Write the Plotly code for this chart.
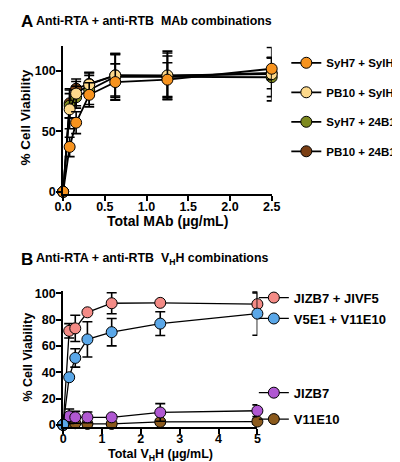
import plotly.graph_objects as go

# ---------------- data ----------------
xA = [0, 0.078, 0.156, 0.3125, 0.625, 1.25, 2.5]
A_SyH7_SylH3 = [0, 37, 57, 80, 90.5, 92.5, 101.5]
A_SyH7_SylH3_err = [0, 8, 9, 10, 15, 14, 9]
A_PB10_SylH3 = [0, 68, 81, 88.5, 96, 96, 97]
A_PB10_SylH3_err = [0, 16, 10, 10, 17, 20, 22]
A_SyH7_24B11 = [0, 71, 78, 84, 95, 95, 94.5]
A_SyH7_24B11_err = [0, 10, 9, 12, 19, 17, 16]
A_PB10_24B11 = [0, 73, 85, 89, 96, 95.5, 98]
A_PB10_24B11_err = [0, 12, 8, 9, 18, 19, 13]

xB = [0, 0.156, 0.3125, 0.625, 1.25, 2.5, 5]
B_JIZB7_JIVF5 = [0, 71.5, 73.4, 85.6, 92.5, 92.8, 91.8]
B_JIZB7_JIVF5_err = [0, 5.5, 10, 0, 8, 0, 8.5]
B_V5E1_V11E10 = [0, 36.2, 50.9, 65, 70.5, 77, 84.6]
B_V5E1_V11E10_err = [0, 1, 7, 13.4, 10.4, 9, 16.5]
B_JIZB7 = [0, 6.5, 5.7, 5.7, 5.7, 9.4, 10.7]
B_JIZB7_err = [0, 5.5, 4.5, 4, 0, 6.7, 4.5]
B_V11E10 = [0, 1.5, 1.2, 0.7, 0.7, 2.2, 2.5]
B_V11E10_err = [0, 1.5, 1, 0.5, 0.5, 1.5, 2]

xA_ticks = [0, 0.5, 1.0, 1.5, 2.0, 2.5]
yA_ticks = [0, 50, 100]
xB_ticks = [0, 1, 2, 3, 4, 5]
yB_ticks = [0, 20, 40, 60, 80, 100]

W, H = 400, 462
FONT = "Liberation Sans, Arial, sans-serif"

fig = go.Figure()

def add(x, y, err, name, color, xa, ya, legend, rank, lw):
    fig.add_trace(go.Scatter(
        x=x, y=y, name=name, mode="lines+markers",
        xaxis=xa, yaxis=ya, legend=legend, legendrank=rank,
        legendgroup=name, cliponaxis=False,
        line=dict(color="black", width=lw),
        marker=dict(size=11, color=color, line=dict(color="black", width=1)),
        error_y=dict(type="data", array=err, symmetric=True,
                     color="black", thickness=1.6, width=5),
    ))

# Panel A (draw order: brown, olive, yellow, orange on top)
add(xA, A_PB10_24B11, A_PB10_24B11_err, "PB10 + 24B11", "#7B3F14", "x", "y", "legend", 4, 1.8)
add(xA, A_SyH7_24B11, A_SyH7_24B11_err, "SyH7 + 24B11", "#7E8A1F", "x", "y", "legend", 3, 1.8)
add(xA, A_PB10_SylH3, A_PB10_SylH3_err, "PB10 + SylH3", "#FDD98B", "x", "y", "legend", 2, 1.8)
add(xA, A_SyH7_SylH3, A_SyH7_SylH3_err, "SyH7 + SylH3", "#F7931E", "x", "y", "legend", 1, 1.8)

# Panel B
add(xB, B_V11E10, B_V11E10_err, "V11E10", "#8B5A1D", "x2", "y2", "legend3", 2, 1.3)
add(xB, B_JIZB7, B_JIZB7_err, "JIZB7", "#B058D2", "x2", "y2", "legend3", 1, 1.3)
add(xB, B_JIZB7_JIVF5, B_JIZB7_JIVF5_err, "JIZB7 + JIVF5", "#F48B86", "x2", "y2", "legend2", 1, 1.3)
add(xB, B_V5E1_V11E10, B_V5E1_V11E10_err, "V5E1 + V11E10", "#5AA7E8", "x2", "y2", "legend2", 2, 1.3)

def px_x(p):
    return p / W

def px_y(p):
    return 1 - p / H

tickfont = dict(family=FONT, size=12.5, color="black", weight="bold")
axis_common = dict(showline=True, linecolor="black", linewidth=1.8, ticks="outside",
                   ticklen=5, tickwidth=1.8, tickcolor="black", showgrid=False,
                   zeroline=False, tickfont=tickfont)

legfontA = dict(family=FONT, size=11.5, color="black", weight="bold")
legfontB = dict(family=FONT, size=13, color="black", weight="bold")

fig.update_layout(
    width=W, height=H, margin=dict(l=0, r=0, t=0, b=0),
    paper_bgcolor="white", plot_bgcolor="white",
    font=dict(family=FONT, color="black"),
    xaxis=dict(domain=[px_x(48.3), px_x(266.7)], range=[0, 2.5], anchor="y",
               tickvals=xA_ticks, tickformat=".1f", ticklabelstandoff=-5, **axis_common),
    yaxis=dict(domain=[px_y(185.8), px_y(35)], range=[-2, 120], anchor="x",
               tickvals=yA_ticks, ticklabelstandoff=-2, **axis_common),
    xaxis2=dict(domain=[px_x(48.3), px_x(251.7)], range=[0, 5], anchor="y2",
                tickvals=xB_ticks, ticklabelstandoff=-6, **axis_common),
    yaxis2=dict(domain=[px_y(423.7), px_y(284.3)], range=[-2, 102], anchor="x2",
                tickvals=yB_ticks, ticklabelstandoff=-2, **axis_common),
    legend=dict(x=px_x(282), y=px_y(37), xanchor="left", yanchor="top",
                tracegroupgap=10.5, bgcolor="rgba(0,0,0,0)", font=legfontA),
    legend2=dict(x=px_x(248), y=px_y(276), xanchor="left", yanchor="top",
                 tracegroupgap=1, bgcolor="rgba(0,0,0,0)", font=legfontB),
    legend3=dict(x=px_x(248), y=px_y(373), xanchor="left", yanchor="top",
                 tracegroupgap=6.5, bgcolor="rgba(0,0,0,0)", font=legfontB),
    showlegend=True,
)

def ann(text, x, y, size, xanchor="left", angle=0):
    fig.add_annotation(text=text, x=px_x(x), y=px_y(y), xref="paper", yref="paper",
                       xanchor=xanchor, yanchor="middle", showarrow=False, textangle=angle,
                       font=dict(family=FONT, size=size, color="black", weight="bold"))

ann("A", 2, 10, 17)
ann("Anti-RTA + anti-RTB\u00a0\u00a0MAb combinations", 18, 9, 12.4)
ann("B", 2, 252, 17)
ann("Anti-RTA + anti-RTB\u00a0\u00a0V<sub>H</sub>H combinations", 18, 252, 12.4)

ann("% Cell Viability", 9, 108, 13.5, xanchor="center", angle=-90)
ann("% Cell Viability", 12, 352, 12.5, xanchor="center", angle=-90)
ann("Total MAb (\u00b5g/mL)", 157.5, 213, 14, xanchor="center")
ann("Total V<sub>H</sub>H (\u00b5g/mL)", 150, 451.5, 12.5, xanchor="center")

fig.write_html("out.html")
